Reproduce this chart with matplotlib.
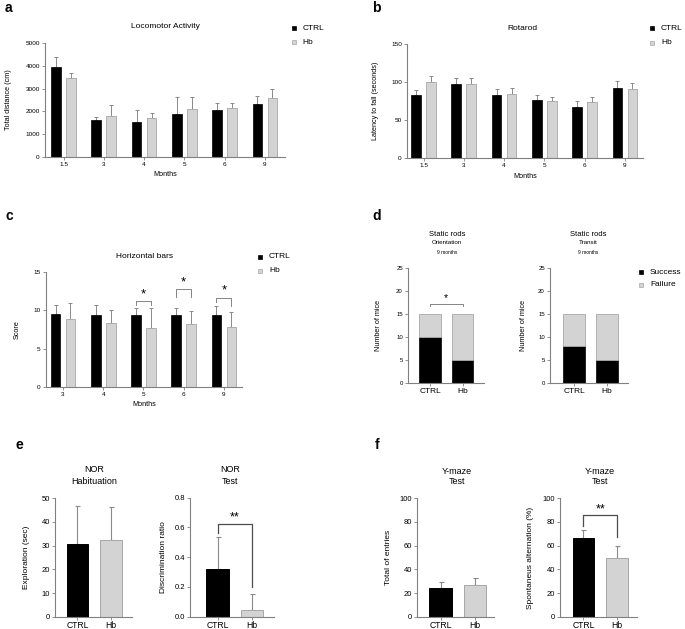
import matplotlib
matplotlib.use("Agg")
import matplotlib.pyplot as plt
from matplotlib.lines import Line2D
import numpy as np

plt.rcParams['font.family'] = ['Liberation Sans', 'DejaVu Sans']

# ---------------- data ----------------
months_a = ['1.5', '3', '4', '5', '6', '9']
loco_ctrl = [3927, 1635, 1535, 1885, 2060, 2340]
loco_ctrl_err = [4380, 1740, 2060, 2620, 2350, 2680]
loco_hb = [3453, 1795, 1725, 2100, 2130, 2575]
loco_hb_err = [3673, 2270, 1930, 2620, 2350, 3000]

rota_ctrl = [83, 97, 83, 76, 67.5, 92]
rota_ctrl_err = [90, 105, 91, 83, 75, 102]
rota_hb = [100, 98, 85, 75, 74, 91]
rota_hb_err = [108, 106, 92, 81, 81, 99]

months_c = ['3', '4', '5', '6', '9']
hbar_ctrl = [9.57, 9.35, 9.35, 9.4, 9.4]
hbar_ctrl_err = [10.7, 10.74, 10.26, 10.35, 10.6]
hbar_hb = [8.83, 8.3, 7.74, 8.17, 7.8]
hbar_hb_err = [10.9, 10.04, 10.25, 9.9, 9.83]

groups = ['CTRL', 'Hb']
orient_success = [10, 5]
orient_total = [15, 15]
transit_success = [8, 5]
transit_total = [15, 15]

nor_hab = [30.6, 32.3]
nor_hab_err = [46.8, 46.2]
nor_test = [0.319, 0.043]
nor_test_err = [0.533, 0.153]

ymaze_entries = [23.9, 26.8]
ymaze_entries_err = [29.6, 33.0]
ymaze_alt = [66.2, 49.3]
ymaze_alt_err = [73.5, 60.0]

# ---------------- layout helpers ----------------
W, H = 685, 629
fig = plt.figure(figsize=(W / 100, H / 100), dpi=100)

BLACK = '#000000'
GRAY = '#d3d3d3'
GRAY_EDGE = '#a8a8a8'
AXC = '#808080'
ERRC = '#8a8a8a'


def add_ax(l, t, r, b):
    return fig.add_axes([l / W, 1 - b / H, (r - l) / W, (b - t) / H])


def ftext(x, y, s, size, **kw):
    kw.setdefault('ha', 'center')
    kw.setdefault('va', 'center')
    fig.text(x / W, 1 - y / H, s, fontsize=size, **kw)


def style(ax, ysize, xsize, xpad=1.5):
    for s in ['top', 'right']:
        ax.spines[s].set_visible(False)
    for s in ['left', 'bottom']:
        ax.spines[s].set_color(AXC)
        ax.spines[s].set_linewidth(0.8)
    ax.tick_params(axis='both', length=2.2, width=0.6, color=AXC, pad=1.5)
    ax.tick_params(axis='y', labelsize=ysize)
    ax.tick_params(axis='x', labelsize=xsize, pad=xpad)


def ylabel_at(ax, text, xpix, l, r, size):
    ax.set_ylabel(text, fontsize=size)
    ax.yaxis.set_label_coords((xpix - l) / (r - l), 0.5)


def legend(xm, y1, y2, labels, size):
    for y, col, ec, lab in [(y1, BLACK, BLACK, labels[0]), (y2, GRAY, GRAY_EDGE, labels[1])]:
        fig.add_artist(Line2D([xm / W], [1 - y / H], marker='s', markersize=3.4,
                              markerfacecolor=col, markeredgecolor=ec, markeredgewidth=0.5,
                              linestyle='none', transform=fig.transFigure))
        ftext(xm + 9, y, lab, size, ha='left')


def grouped(ax, labels, c, ce, h, he, xlim):
    x = np.arange(len(labels))
    off, w = 0.186, 0.24
    c = np.array(c); ce = np.array(ce); h = np.array(h); he = np.array(he)
    ax.bar(x - off, c, w, color=BLACK, edgecolor=BLACK, linewidth=0.5, zorder=2)
    ax.bar(x + off, h, w, color=GRAY, edgecolor=GRAY_EDGE, linewidth=0.6, zorder=2)
    ax.errorbar(x - off, c, yerr=[np.zeros_like(c), ce - c], fmt='none', ecolor=ERRC,
                elinewidth=0.7, capsize=1.2, capthick=0.7, zorder=1)
    ax.errorbar(x + off, h, yerr=[np.zeros_like(h), he - h], fmt='none', ecolor=ERRC,
                elinewidth=0.7, capsize=1.2, capthick=0.7, zorder=1)
    ax.set_xticks(x)
    ax.set_xticklabels(labels)
    ax.set_xlim(*xlim)
    return x, off


def two_bars(ax, vals, errs, xlim):
    x = np.arange(2)
    vals = np.array(vals); errs = np.array(errs)
    ax.bar(x, vals, 0.65, color=[BLACK, GRAY], edgecolor=[BLACK, GRAY_EDGE], linewidth=0.7, zorder=2)
    ax.errorbar(x, vals, yerr=[np.zeros(2), errs - vals], fmt='none', ecolor=ERRC,
                elinewidth=0.8, capsize=1.8, capthick=0.8, zorder=1)
    ax.set_xticks(x)
    ax.set_xticklabels(groups)
    ax.set_xlim(*xlim)


def bracket(ax, x1, x2, y, yl, yr, color, lw):
    ax.plot([x1, x1, x2, x2], [yl, y, y, yr], color=color, lw=lw, clip_on=False, zorder=3)


# ---------------- panel a ----------------
la, ra = 45, 285
axa = add_ax(la, 43, ra, 157)
grouped(axa, months_a, loco_ctrl, loco_ctrl_err, loco_hb, loco_hb_err, (-0.46, 5.5))
axa.set_ylim(0, 5000)
axa.set_yticks([0, 1000, 2000, 3000, 4000, 5000])
style(axa, 4.6, 4.6)
ylabel_at(axa, 'Total distance (cm)', 12, la, ra, 5.2)
ftext(165, 175, 'Months', 5.2)
ftext(165, 27, 'Locomotor Activity', 6)
legend(293.5, 28, 42, ['CTRL', 'Hb'], 6)
ftext(5, 8, 'a', 10, ha='left', fontweight='bold')

# ---------------- panel b ----------------
lb, rb = 407, 643
axb = add_ax(lb, 44, rb, 158.3)
grouped(axb, months_a, rota_ctrl, rota_ctrl_err, rota_hb, rota_hb_err, (-0.41, 5.45))
axb.set_ylim(0, 150)
axb.set_yticks([0, 50, 100, 150])
style(axb, 4.6, 4.6)
ylabel_at(axb, 'Latency to fall (seconds)', 379, lb, rb, 5.2)
ftext(525, 177, 'Months', 5.2)
ftext(522, 28, 'Rotarod', 6)
legend(652, 28, 43, ['CTRL', 'Hb'], 6)
ftext(372, 8, 'b', 10, ha='left', fontweight='bold')

# ---------------- panel c ----------------
lc, rc = 45.7, 242
axc = add_ax(lc, 272, rc, 387)
xc, offc = grouped(axc, months_c, hbar_ctrl, hbar_ctrl_err, hbar_hb, hbar_hb_err, (-0.43, 4.45))
axc.set_ylim(0, 15)
axc.set_yticks([0, 5, 10, 15])
style(axc, 4.6, 4.6)
ylabel_at(axc, 'Score', 21, lc, rc, 5.2)
ftext(144, 405, 'Months', 5.2)
ftext(144, 256, 'Horizontal bars', 6)
legend(260, 257, 271, ['CTRL', 'Hb'], 6)
ftext(5, 216, 'c', 10, ha='left', fontweight='bold')
for i, (yb, yl, yr, ys) in zip([2, 3, 4], [(11.2, 10.7, 10.7, 12.1),
                                           (12.8, 11.75, 11.75, 13.7),
                                           (11.66, 11.1, 10.6, 12.6)]):
    bracket(axc, xc[i] - offc, xc[i] + offc, yb, yl, yr, '#707070', 0.6)
    axc.text(xc[i], ys, '*', ha='center', va='center', fontsize=9.5, clip_on=False)

# ---------------- panel d ----------------
def stacked(ax, succ, tot, xlim):
    x = np.arange(2)
    succ = np.array(succ); tot = np.array(tot)
    ax.bar(x, succ, 0.67, color=BLACK, edgecolor=BLACK, linewidth=0.5, zorder=2)
    ax.bar(x, tot - succ, 0.67, bottom=succ, color=GRAY, edgecolor=GRAY_EDGE, linewidth=0.6, zorder=2)
    ax.set_xticks(x)
    ax.set_xticklabels(groups)
    ax.set_xlim(*xlim)
    ax.set_ylim(0, 25)
    ax.set_yticks([0, 5, 10, 15, 20, 25])

ld1, rd1 = 408, 484
axd1 = add_ax(ld1, 268, rd1, 383.3)
stacked(axd1, orient_success, orient_total, (-0.68, 1.66))
style(axd1, 4.3, 6)
ylabel_at(axd1, 'Number of mice', 382, ld1, rd1, 5.2)
bracket(axd1, 0, 1, 17.2, 16.7, 16.7, '#707070', 0.6)
axd1.text(0.5, 18.5, '*', ha='center', va='center', fontsize=7.5)
ftext(447, 234, 'Static rods', 5.5)
ftext(447, 243, 'Orientation', 4.5)
ftext(447, 252, '9 months', 3.5)

ld2, rd2 = 550, 628
axd2 = add_ax(ld2, 268, rd2, 383.3)
stacked(axd2, transit_success, transit_total, (-0.73, 1.64))
style(axd2, 4.3, 6)
ylabel_at(axd2, 'Number of mice', 527, ld2, rd2, 5.2)
ftext(588, 234, 'Static rods', 5.5)
ftext(588, 243, 'Transit', 4.5)
ftext(588, 252, '9 months', 3.5)
legend(641, 272, 285, ['Success', 'Failure'], 6)
ftext(372, 216, 'd', 10, ha='left', fontweight='bold')

# ---------------- panel e ----------------
le1, re1 = 55, 132
axe1 = add_ax(le1, 498.3, re1, 616.7)
two_bars(axe1, nor_hab, nor_hab_err, (-0.67, 1.63))
axe1.set_ylim(0, 50)
axe1.set_yticks([0, 10, 20, 30, 40, 50])
style(axe1, 5.5, 6.2, xpad=0.8)
ylabel_at(axe1, 'Exploration (sec)', 30, le1, re1, 6)
ftext(94, 470, 'NOR', 6.5)
ftext(94, 482, 'Habituation', 6.5)

le2, re2 = 190, 274
axe2 = add_ax(le2, 497.7, re2, 616.7)
two_bars(axe2, nor_test, nor_test_err, (-0.81, 1.66))
axe2.set_ylim(0, 0.8)
axe2.set_yticks([0.0, 0.2, 0.4, 0.6, 0.8])
axe2.set_yticklabels(['0.0', '0.2', '0.4', '0.6', '0.8'])
style(axe2, 5.5, 6.2, xpad=0.8)
ylabel_at(axe2, 'Discrimination ratio', 167, le2, re2, 6)
bracket(axe2, 0, 1, 0.623, 0.562, 0.2, '#4d4d4d', 0.9)
axe2.text(0.5, 0.668, '**', ha='center', va='center', fontsize=9)
ftext(230, 470, 'NOR', 6.5)
ftext(230, 481, 'Test', 6.5)
ftext(16, 445, 'e', 10, ha='left', fontweight='bold')

# ---------------- panel f ----------------
lf1, rf1 = 417, 494
axf1 = add_ax(lf1, 498.3, rf1, 616.7)
two_bars(axf1, ymaze_entries, ymaze_entries_err, (-0.69, 1.57))
axf1.set_ylim(0, 100)
axf1.set_yticks([0, 20, 40, 60, 80, 100])
style(axf1, 5.5, 6.2, xpad=0.8)
ylabel_at(axf1, 'Total of entries', 392, lf1, rf1, 6)
ftext(457, 471, 'Y-maze', 6.5)
ftext(457, 482, 'Test', 6.5)

lf2, rf2 = 560, 637
axf2 = add_ax(lf2, 498.3, rf2, 616.7)
two_bars(axf2, ymaze_alt, ymaze_alt_err, (-0.7, 1.6))
axf2.set_ylim(0, 100)
axf2.set_yticks([0, 20, 40, 60, 80, 100])
style(axf2, 5.5, 6.2, xpad=0.8)
ylabel_at(axf2, 'Spontaneus alternation (%)', 534, lf2, rf2, 6)
bracket(axf2, 0, 1, 85.6, 77.0, 67.6, '#4d4d4d', 0.9)
axf2.text(0.5, 91.0, '**', ha='center', va='center', fontsize=9)
ftext(600, 471, 'Y-maze', 6.5)
ftext(600, 482, 'Test', 6.5)
ftext(375, 445, 'f', 10, ha='left', fontweight='bold')

fig.savefig('out.png', dpi=100)
